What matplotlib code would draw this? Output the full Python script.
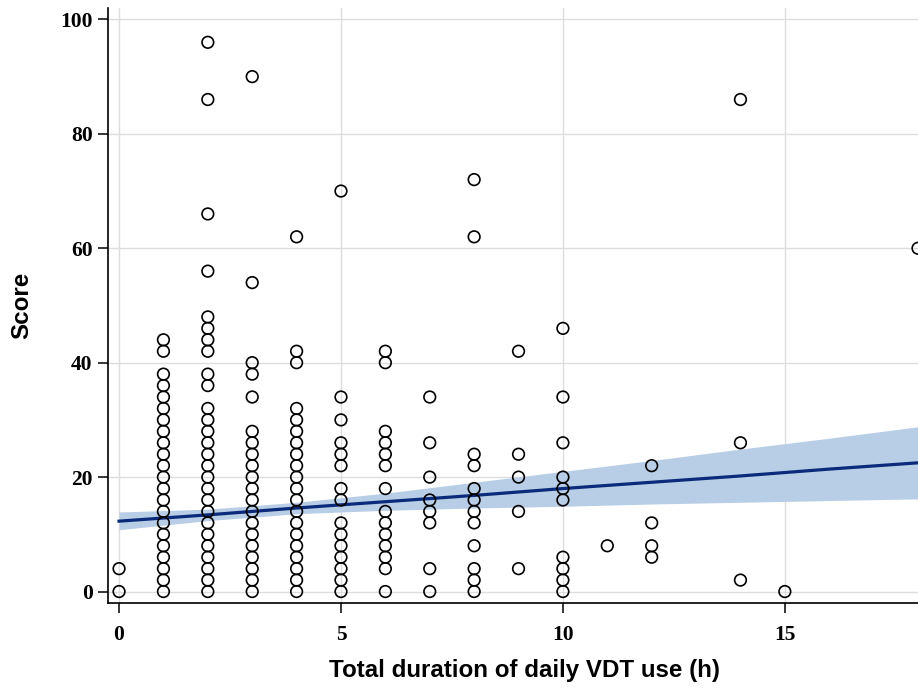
import matplotlib
matplotlib.use("Agg")
import matplotlib.pyplot as plt
import numpy as np

# Score by total daily VDT use (h), one list per hour value
score_h0 = [0, 4]
score_h1 = [0, 2, 4, 6, 8, 10, 12, 14, 16, 18, 20, 22, 24, 26, 28, 30, 32, 34, 36, 38, 42, 44]
score_h2 = [0, 2, 4, 6, 8, 10, 12, 14, 16, 18, 20, 22, 24, 26, 28, 30, 32, 36, 38, 42, 44, 46, 48,
            56, 66, 86, 96]
score_h3 = [0, 2, 4, 6, 8, 10, 12, 14, 16, 18, 20, 22, 24, 26, 28, 34, 38, 40, 54, 90]
score_h4 = [0, 2, 4, 6, 8, 10, 12, 14, 16, 18, 20, 22, 24, 26, 28, 30, 32, 40, 42, 62]
score_h5 = [0, 2, 4, 6, 8, 10, 12, 16, 18, 22, 24, 26, 30, 34, 70]
score_h6 = [0, 4, 6, 8, 10, 12, 14, 18, 22, 24, 26, 28, 40, 42]
score_h7 = [0, 4, 12, 14, 16, 20, 26, 34]
score_h8 = [0, 2, 4, 8, 12, 14, 16, 18, 22, 24, 62, 72]
score_h9 = [4, 14, 20, 24, 42]
score_h10 = [0, 2, 4, 6, 16, 18, 20, 26, 34, 46]
score_h11 = [8]
score_h12 = [6, 8, 12, 22]
score_h14 = [2, 26, 86]
score_h15 = [0]
score_h18 = [60]

# linear fit and its 95% band
fit_x = [0, 2, 4, 6, 8, 10, 12, 14, 16, 18]
fit_y = [12.3, 13.4, 14.6, 15.7, 16.8, 18.0, 19.1, 20.2, 21.4, 22.5]
band_low = [10.8, 12.4, 13.6, 14.2, 14.6, 14.9, 15.3, 15.6, 15.9, 16.2]
band_high = [13.9, 14.4, 15.6, 17.2, 19.1, 21.0, 22.9, 24.9, 26.8, 28.8]

x_ticks = [0, 5, 10, 15]
y_ticks = [0, 20, 40, 60, 80, 100]

columns = {
    0: score_h0, 1: score_h1, 2: score_h2, 3: score_h3, 4: score_h4, 5: score_h5,
    6: score_h6, 7: score_h7, 8: score_h8, 9: score_h9, 10: score_h10, 11: score_h11,
    12: score_h12, 14: score_h14, 15: score_h15, 18: score_h18,
}
hours = np.concatenate([[h] * len(v) for h, v in columns.items()])
scores = np.concatenate([v for v in columns.values()])

fig = plt.figure(figsize=(9.18, 6.93), dpi=100)
ax = fig.add_axes([0.1176, 0.1299, 0.8824, 0.8586])

ax.fill_between(fit_x, band_low, band_high, color="#b8cde6", lw=0, zorder=2)
ax.plot(fit_x, fit_y, color="#0b2a7a", lw=2.3, zorder=3)
ax.scatter(hours, scores, s=70, facecolors="none", edgecolors="black", linewidths=1.2, zorder=4)

ax.set_xlim(-0.25, 18.0)
ax.set_ylim(-2.0, 102.0)
ax.set_xticks(x_ticks)
ax.set_yticks(y_ticks)
ax.grid(True, color="#dddddd", lw=1.0, zorder=0)
ax.set_axisbelow(True)

for side in ["top", "right"]:
    ax.spines[side].set_visible(False)
for side in ["left", "bottom"]:
    ax.spines[side].set_linewidth(1.2)

ax.tick_params(axis="x", direction="out", length=7.5, width=1.1, pad=8.5)
ax.tick_params(axis="y", direction="out", length=7.5, width=1.1, pad=3.5)
for lab in ax.get_xticklabels() + ax.get_yticklabels():
    lab.set_fontfamily(["Liberation Serif", "DejaVu Serif"])
    lab.set_fontweight("bold")
    lab.set_fontsize(15.5)

label_font = dict(family=["Liberation Sans", "DejaVu Sans"], fontweight="bold", fontsize=17.4)
ax.set_xlabel("Total duration of daily VDT use (h)", va="baseline", **label_font)
ax.set_ylabel("Score", va="center", **label_font)
ax.xaxis.set_label_coords(0.514, -0.1249)
ax.yaxis.set_label_coords(-0.107, 0.50)

fig.savefig("out.png", dpi=100)
